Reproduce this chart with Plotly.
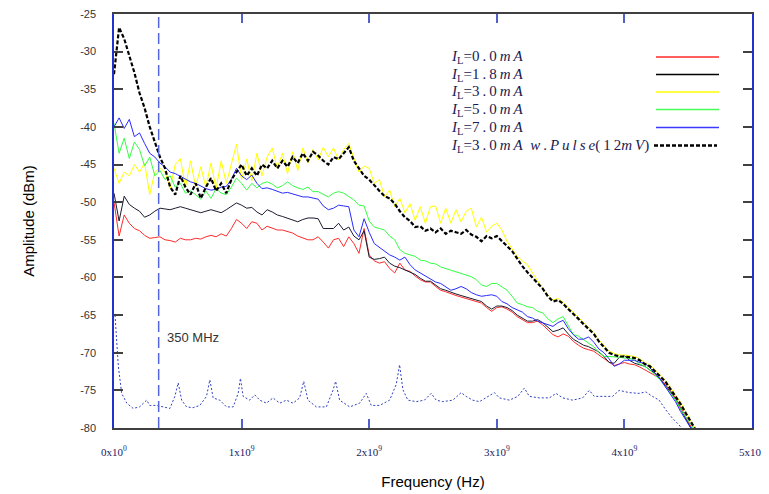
import numpy as np
import plotly.graph_objects as go

# ---------------- data ----------------
freq_ghz = np.round(np.arange(115) * 0.04, 2)  # sample frequencies (GHz)

red_0mA = [-50, -54.5, -51.7, -52.8, -53.5, -53.8, -54.4, -54.8, -54.7, -54.6,
           -55, -55.1, -55.3, -54.8, -55, -55, -54.8, -54.9, -54.6, -54.4,
           -54.6, -54.2, -54.5, -53.5, -52.3, -52.8, -53.5, -52.6, -52.8, -53.7,
           -53.2, -53.5, -53.7, -53.7, -53.9, -54.1, -54.5, -54.8, -55, -55,
           -54.6, -55.3, -56.1, -55, -54.8, -55.9, -54.6, -55.5, -56.8, -53.5,
           -57, -57.8, -58.1, -57.9, -58.8, -59.4, -58.1, -59, -59.2, -59.8,
           -60.3, -60.6, -60.6, -61.2, -61.7, -61.9, -62.2, -62.4, -62.6, -62.8,
           -63, -63.2, -63.4, -64, -64.5, -64, -63.9, -64.2, -64.6, -65.2,
           -65.6, -66, -66, -65.8, -66.3, -67, -67.6, -67.9, -67.5, -67.8,
           -68.5, -69, -69.4, -69.6, -69.8, -70.3, -70.8, -71.2, -71.7, -71.5,
           -71.3, -71.5, -71.6, -71.9, -72.3, -72.6, -73, -73.4, -74.2, -75,
           -76, -77.2, -78.6, -79.8, -81]

black_1p8mA = [-48.8, -52.5, -49.2, -50.3, -50.8, -51.2, -52, -51.7, -51.2, -50.8,
               -50.9, -51, -50.8, -50.6, -50.8, -51, -51.2, -51.4, -51.2, -51,
               -51.2, -51.4, -51, -50.6, -50.1, -50.4, -50.8, -50.7, -51.3, -51.7,
               -51, -51.3, -51.7, -51.9, -52.1, -52.3, -52.6, -52.3, -52.1, -52.1,
               -52.2, -53.5, -53.5, -53.5, -52.8, -53.7, -53.3, -54.5, -55, -53.8,
               -57.3, -57.6, -57.5, -57.3, -58.1, -58.5, -58.7, -59, -59.2, -59.6,
               -60.1, -60.5, -60.5, -61, -61.5, -61.7, -62, -62.2, -62.4, -62.6,
               -62.8, -63, -63.2, -63.8, -64.2, -63.8, -63.8, -64, -64.4, -65,
               -65.4, -65.8, -65.8, -65.6, -66, -66.6, -67.2, -67, -66.7, -67.5,
               -68.2, -68.6, -69, -69.2, -69.6, -69.9, -70.5, -71.3, -71.4, -70.6,
               -70.4, -71, -71.4, -71.6, -71.8, -72.3, -72.7, -73.5, -74.3, -75.2,
               -76.2, -77.5, -78.8, -80, -81]

yellow_3mA = [-45.5, -47.5, -46, -46.5, -45, -46, -44.8, -49, -46, -45.5,
              -46, -48.2, -45, -44.2, -48, -44.5, -48, -45.3, -48, -44.8,
              -48.2, -44.5, -47.5, -45, -42.3, -47, -44.3, -47.2, -43.5, -46.5,
              -44, -42.8, -45.5, -43.5, -46.2, -43.3, -45.8, -42.8, -44.8, -43,
              -44.4, -42.7, -44, -42.8, -44.4, -43, -42.2, -44.2, -46, -45.2,
              -45.5, -47.5, -47, -49.3, -48.4, -50.6, -49.5, -51.4, -50.2, -52.4,
              -50.6, -52.8, -50.6, -50.5, -52.8, -50.8, -52.8, -51, -52.6, -51.2,
              -50.8, -53.3, -52, -54, -53.2, -52.8, -53.7, -55.2, -56.2, -57.2,
              -57.8, -58.3, -59.4, -60.5, -61.5, -62.3, -63, -62.8, -63.3, -64,
              -64.6, -65.3, -66, -66.6, -67.3, -68.3, -69.1, -69.8, -70.1, -70.3,
              -70.3, -70.4, -70.5, -70.8, -71.3, -71.6, -72.3, -73, -73.6, -74.6,
              -75.6, -76.6, -77.8, -79, -80.2]

green_5mA = [-39.5, -43.5, -41.5, -44.2, -42, -43, -45.2, -44, -46.5, -45.8,
             -47, -46.5, -48, -47.5, -48.8, -48.5, -49, -49.6, -48.5, -49.5,
             -48.2, -48.8, -49, -48, -46.8, -47.5, -48.4, -47.5, -48.1, -47.5,
             -47.3, -47.6, -48.1, -47.8, -47.3, -47.8, -48.1, -48.3, -48, -48.6,
             -48.6, -49, -49.3, -48.8, -48.6, -48.8, -49.2, -49.7, -50.4, -50.5,
             -52.5, -53.3, -53.5, -53.7, -54.5, -55, -56.3, -56.8, -57, -57.2,
             -57.7, -57.8, -58.1, -58.2, -58.6, -58.8, -59, -59.2, -59.4, -59.6,
             -59.9, -60.3, -61, -61.2, -60.8, -60.8, -61.2, -61.7, -62.5, -63.4,
             -63.6, -63.9, -64, -64.5, -64.7, -65.5, -66, -65.5, -65.2, -66.5,
             -67.6, -67.8, -68.3, -68.8, -69.2, -70, -70.5, -70.5, -70.5, -70.6,
             -70.7, -70.7, -71, -71.5, -71.8, -72.3, -73, -73.6, -74.5, -75.3,
             -76.2, -77.5, -78.5, -79.6, -80.5]

blue_7mA = [-40, -38.8, -40.2, -39, -41.3, -40.8, -42.2, -43.5, -44, -44.8,
            -45.3, -46, -46.2, -46.6, -47, -47.3, -47.5, -47.9, -48.2, -48.4,
            -48.3, -48, -47.9, -47, -45.5, -46.5, -47, -46.4, -47.5, -48.2,
            -48.1, -48.3, -48.5, -48.8, -48.7, -48.9, -49.2, -49.3, -49.3, -49.5,
            -49.6, -50.5, -51, -50.8, -50.4, -50.5, -50.6, -53.7, -54.6, -52.2,
            -54, -55.5, -56, -56.5, -57, -57.3, -57.7, -57.3, -58.3, -59,
            -59.4, -59.8, -60.3, -60.6, -60.8, -61.2, -61.7, -61.5, -61.2, -61.5,
            -62, -62.3, -62.5, -62.4, -62.3, -62.5, -63.2, -63.5, -64, -64.3,
            -64.6, -65.2, -65.4, -65.8, -66, -66.3, -66.5, -66, -65.7, -66.8,
            -67.6, -68.2, -68.2, -67.9, -68.6, -69.5, -70, -70.8, -71.8, -71.5,
            -71, -71, -71, -71.3, -71.4, -72, -72.8, -73.5, -74.5, -75.5,
            -76.5, -77.8, -79, -80, -81]

pulse_3mA = [-33, -26.8, -28.3, -30.5, -32.8, -35.5, -37.5, -40, -42, -44,
             -45.5, -48, -49, -46.5, -48, -49, -47.5, -49.5, -48, -46.8,
             -48.5, -47.5, -48.8, -47, -46, -45, -46.5, -45.5, -46.5, -45,
             -45.5, -44.5, -45.5, -44.5, -45.3, -44, -44.8, -43.5, -44.5, -43.3,
             -43.8, -44.5, -45, -44, -44.3, -43.5, -42.7, -44.5, -45.5, -46.5,
             -47, -47.8, -48.5, -49.2, -49.5, -50.2, -51.2, -52, -52.5, -53.3,
             -53.2, -53.8, -53.5, -54, -53.5, -54.2, -53.8, -54, -54.2, -53.7,
             -54.3, -54.6, -55.2, -54.5, -54.8, -54.5, -55.2, -55.8, -56.5, -57.5,
             -58.5, -59.3, -60, -60.8, -61.5, -62.5, -63.2, -63, -63.5, -64.2,
             -64.8, -65.5, -66.2, -66.8, -67.5, -68.5, -69.3, -70, -70.3, -70.5,
             -70.5, -70.6, -70.7, -71, -71.5, -71.8, -72.5, -73.2, -73.8, -74.8,
             -75.8, -76.8, -78, -79.2, -80.3]

floor_freq_ghz = [0.008, 0.021, 0.034, 0.06, 0.1, 0.15, 0.2, 0.256, 0.28, 0.334,
                  0.386, 0.438, 0.477, 0.503, 0.53, 0.569, 0.62, 0.673, 0.725, 0.751,
                  0.777, 0.829, 0.882, 0.934, 0.973, 0.991, 1.012, 1.064, 1.103, 1.142,
                  1.195, 1.246, 1.299, 1.351, 1.403, 1.455, 1.487, 1.52, 1.586, 1.664,
                  1.716, 1.737, 1.768, 1.847, 1.925, 1.977, 2.016, 2.081, 2.16, 2.212,
                  2.238, 2.264, 2.303, 2.369, 2.433, 2.486, 2.525, 2.577, 2.655, 2.721,
                  2.76, 2.811, 2.864, 2.916, 2.981, 3.02, 3.099, 3.164, 3.216, 3.255,
                  3.333, 3.412, 3.464, 3.516, 3.594, 3.672, 3.725, 3.764, 3.855, 3.907,
                  3.959, 4.038, 4.116, 4.168, 4.22, 4.272, 4.325, 4.376, 4.429, 4.46]
floor_dbm = [-65, -68.3, -71.8, -75.4, -76.7, -77.4, -77.2, -76.3, -77, -77,
             -77.2, -77.4, -75.8, -74, -76.3, -77.2, -77.3, -77, -75.8, -73.6,
             -76, -76.3, -77.2, -77.2, -75.4, -73.4, -75.8, -76.3, -75.6, -76.3,
             -76.7, -76, -76.7, -76.3, -76.7, -76, -73.8, -76.3, -77.2, -77.2,
             -75, -73.8, -76.3, -77.2, -76.7, -75.4, -77, -77, -76.3, -74.2,
             -71.6, -74.9, -76.3, -76.5, -76.3, -75.4, -76.3, -76.5, -76.3, -75.3,
             -75.8, -76.3, -76.5, -76, -75.3, -76, -76.3, -75.8, -74.7, -75.8,
             -76, -76, -75.4, -76, -76.3, -76, -75, -75.8, -75.8, -75.8,
             -75, -75.3, -75.4, -75.2, -75.8, -76.3, -77.6, -78.7, -79.6, -80.3]

marker_freq_ghz = 0.35
marker_label = "350 MHz"

x_tick_vals_ghz = [0, 1, 2, 3, 4, 5]
x_tick_text = ["0x10<sup>0</sup>", "1x10<sup>9</sup>", "2x10<sup>9</sup>",
               "3x10<sup>9</sup>", "4x10<sup>9</sup>", "5x10<sup>9</sup>"]
y_tick_vals = [-25, -30, -35, -40, -45, -50, -55, -60, -65, -70, -75, -80]
y_tick_text = ["-25", "-30", "-35", "-40", "-45", "-50", "-55", "-60", "-65", "-70", "-75", "-80"]

T = "\u2009"
legend_labels = [
    f"<i>I</i><sub>L</sub>=0{T}.{T}0{T}<i>m{T}A</i>",
    f"<i>I</i><sub>L</sub>=1{T}.{T}8{T}<i>m{T}A</i>",
    f"<i>I</i><sub>L</sub>=3{T}.{T}0{T}<i>m{T}A</i>",
    f"<i>I</i><sub>L</sub>=5{T}.{T}0{T}<i>m{T}A</i>",
    f"<i>I</i><sub>L</sub>=7{T}.{T}0{T}<i>m{T}A</i>",
    f"<i>I</i><sub>L</sub>=3{T}.{T}0{T}<i>m{T}A</i>  <i>w</i>{T}.{T}<i>P{T}u{T}l{T}s{T}e</i>({T}1{T}2<i>m{T}V</i>)",
]

# ---------------- styling ----------------
# the page body adds an 8px offset, so the figure is 8px smaller and margins shifted
OFF = 8
W, H = 769 - OFF, 494 - OFF
L, R, TOP, B = 114 - OFF, 17, 14 - OFF, 66
PW, PH = W - L - R, H - TOP - B
SX0, SY_BOTTOM = 114, 428  # screen position of plot area's left / bottom edge

def px(x):
    return (x - SX0) / PW

def py(y):
    return (SY_BOTTOM - y) / PH

hz = lambda arr: [v * 1e9 for v in arr]
x_hz = hz(freq_ghz)

series = [
    (red_0mA, "#ff2a2a", 1, "solid"),
    (black_1p8mA, "#1c1c30", 1, "solid"),
    (yellow_3mA, "#ffff00", 1, "solid"),
    (green_5mA, "#33ff44", 1, "solid"),
    (blue_7mA, "#2a2aff", 1, "solid"),
]

fig = go.Figure()
for vals, col, w, dash in series:
    fig.add_trace(go.Scatter(x=x_hz, y=vals, mode="lines",
                             line=dict(color=col, width=w, dash=dash),
                             showlegend=False, hoverinfo="skip"))
fig.add_trace(go.Scatter(x=hz(floor_freq_ghz), y=floor_dbm, mode="lines",
                         line=dict(color="#3040c0", width=1, dash="2px,2px"),
                         showlegend=False, hoverinfo="skip"))
fig.add_trace(go.Scatter(x=x_hz, y=pulse_3mA, mode="lines",
                         line=dict(color="#000000", width=2.2, dash="4px,2px"),
                         showlegend=False, hoverinfo="skip"))

# 350 MHz marker line
fig.add_shape(type="line", xref="x", yref="y domain",
              x0=marker_freq_ghz * 1e9, x1=marker_freq_ghz * 1e9, y0=0, y1=1,
              line=dict(color="#5566dd", width=1.5, dash="11px,5px"))
fig.add_annotation(x=marker_freq_ghz * 1e9, y=-68.0, xref="x", yref="y",
                   text=marker_label, showarrow=False, xanchor="left", xshift=6,
                   font=dict(family="Liberation Sans, Arial", size=13, color="#333333"))

# custom legend (labels left, samples right)
leg_cols = ["#ff2a2a", "#000000", "#ffff00", "#44ff55", "#3a3aff", "#000000"]
leg_rows = [57, 74.5, 92, 109.5, 127.5, 145.5]
for i, (lab, col, yy) in enumerate(zip(legend_labels, leg_cols, leg_rows)):
    fig.add_annotation(x=px(449), y=py(yy), xref="paper", yref="paper",
                       text=lab, showarrow=False, xanchor="left", yanchor="middle",
                       font=dict(family="Liberation Serif, Times New Roman", size=15,
                                 color="#1a1a50"))
    if i < 5:
        fig.add_shape(type="line", xref="paper", yref="paper",
                      x0=px(656), x1=px(719), y0=py(yy), y1=py(yy),
                      line=dict(color=col, width=1.3))
    else:
        fig.add_shape(type="line", xref="paper", yref="paper",
                      x0=px(654), x1=px(717), y0=py(yy), y1=py(yy),
                      line=dict(color=col, width=2.5, dash="4px,2px"))

fig.update_layout(
    width=W, height=H, autosize=False,
    margin=dict(l=L, r=R, t=TOP, b=B, autoexpand=False),
    paper_bgcolor="white", plot_bgcolor="white",
    showlegend=False,
)
fig.update_xaxes(
    range=[0, 5e9], tickvals=hz(x_tick_vals_ghz), ticktext=x_tick_text,
    ticks="inside", ticklen=9, tickwidth=1.5, tickcolor="#5060cc",
    showline=True, linecolor="#404040", linewidth=1.5, mirror="ticks",
    showgrid=False, zeroline=False, ticklabelstandoff=13, automargin=False,
    ticklabeloverflow="allow",
    tickfont=dict(family="Liberation Serif, Times New Roman", size=11, color="#1a1a60"),
    title=dict(text="Frequency (Hz)", standoff=20,
               font=dict(family="Liberation Sans, Arial", size=15, color="#000000")),
)
fig.update_yaxes(
    range=[-80, -25], tickvals=y_tick_vals, ticktext=y_tick_text,
    ticks="inside", ticklen=9, tickwidth=1.5, tickcolor="#404040",
    showline=True, linecolor="#2233cc", linewidth=1.5, mirror="ticks",
    showgrid=False, zeroline=False, ticklabelstandoff=14, automargin=False,
    ticklabeloverflow="allow",
    tickfont=dict(family="Liberation Sans, Arial", size=11, color="#333333"),
    title=dict(text="Amplitude (dBm)", standoff=42,
               font=dict(family="Liberation Sans, Arial", size=15, color="#000000")),
)

fig.write_html("out.html")
